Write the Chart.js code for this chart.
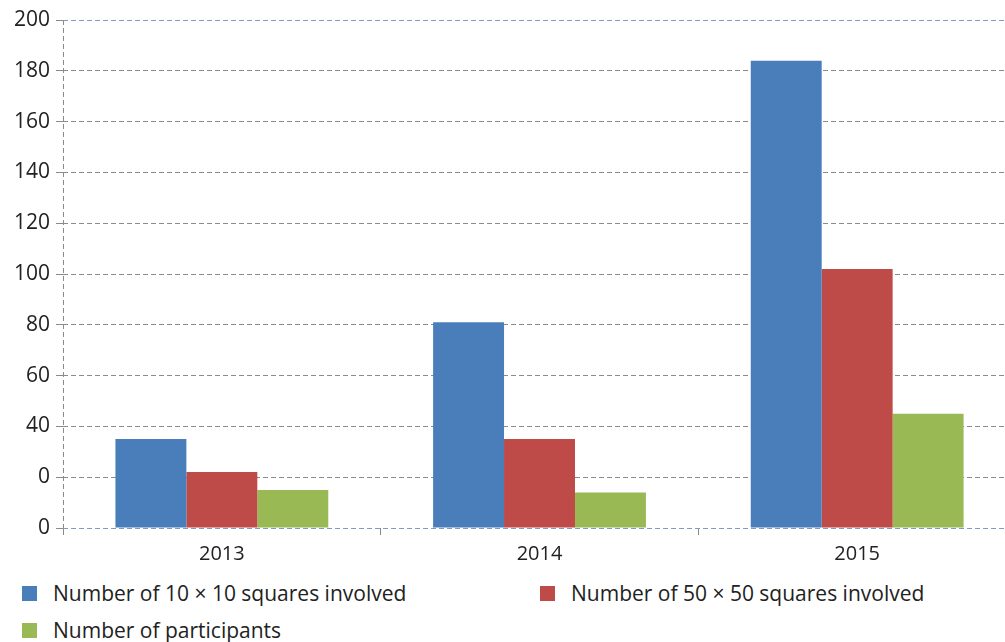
<!DOCTYPE html>
<html>
<head>
<meta charset="utf-8">
<script src="https://cdn.jsdelivr.net/npm/chart.js@4/dist/chart.umd.min.js"></script>
<style>
  html, body { margin: 0; padding: 0; background: #fff; overflow: hidden; }
  #wrap { position: relative; width: 1020px; height: 573px; }
  #legend { position: absolute; left: 0; top: 578px; width: 1005px; font-family: 'Open Sans', sans-serif; font-size: 21px; color: #222; }
  .item { position: absolute; display: flex; align-items: center; white-space: nowrap; }
  .box { width: 15px; height: 15px; margin-right: 16px; }
</style>
</head>
<body>
<div id="wrap"><canvas id="chart"></canvas></div>
<div id="legend"></div>
<script>
var years = ["2013", "2014", "2015"];
var squares10 = [35, 81, 184];
var squares50 = [22, 35, 102];
var participants = [15, 14, 45];
var seriesNames = ["Number of 10 \u00d7 10 squares involved", "Number of 50 \u00d7 50 squares involved", "Number of participants"];
var seriesColors = ["#4A7EBB", "#BE4B48", "#98B954"];
// the source chart labels its 20 gridline "0"
var yTickLabels = ["0", "0", "40", "60", "80", "100", "120", "140", "160", "180", "200"];

Chart.defaults.font.family = "'Open Sans', sans-serif";
Chart.defaults.font.size = 21;
Chart.defaults.color = "#222";

var ctx = document.getElementById("chart").getContext("2d");
var chart = new Chart(ctx, {
  type: "bar",
  data: {
    labels: years,
    datasets: [squares10, squares50, participants].map(function(vals, i) {
      return {
        label: seriesNames[i],
        data: vals,
        backgroundColor: seriesColors[i],
        barPercentage: 1,
        categoryPercentage: 0.67
      };
    })
  },
  options: {
    responsive: true,
    maintainAspectRatio: false,
    animation: false,
    layout: { padding: { top: 20, left: 8, right: 4, bottom: 0 } },
    plugins: { legend: { display: false }, tooltip: { enabled: false } },
    scales: {
      x: {
        grid: {
          offset: true,
          color: function(c) { return c.index === 0 ? "#8a8a8a" : "rgba(0,0,0,0)"; },
          tickColor: "#8a8a8a",
          tickLength: 7,
          lineWidth: 1
        },
        border: { display: false, dash: [5, 3] },
        ticks: { padding: 7, color: "#222", font: { size: 20 } }
      },
      y: {
        min: 0,
        max: 200,
        ticks: {
          stepSize: 20,
          padding: 6,
          color: "#222",
          callback: function(v, i) { return yTickLabels[i]; }
        },
        grid: {
          color: function(c) {
            var v = c.tick && c.tick.value;
            return (v === 0 || v === 200) ? "#7f9cc6" : "#8a8a8a";
          },
          tickColor: "#8a8a8a",
          tickLength: 7,
          lineWidth: 1
        },
        border: { display: false, dash: [5, 3] }
      }
    }
  }
});

var legend = document.getElementById("legend");
var spots = [[22, 15], [540, 15], [22, 52]];
chart.data.datasets.forEach(function(ds, i) {
  var el = document.createElement("div");
  el.className = "item";
  el.style.left = spots[i][0] + "px";
  el.style.top = (spots[i][1] - 14) + "px";
  el.innerHTML = '<span class="box" style="background:' + ds.backgroundColor + '"></span><span>' + ds.label + '</span>';
  legend.appendChild(el);
});
</script>
</body>
</html>
